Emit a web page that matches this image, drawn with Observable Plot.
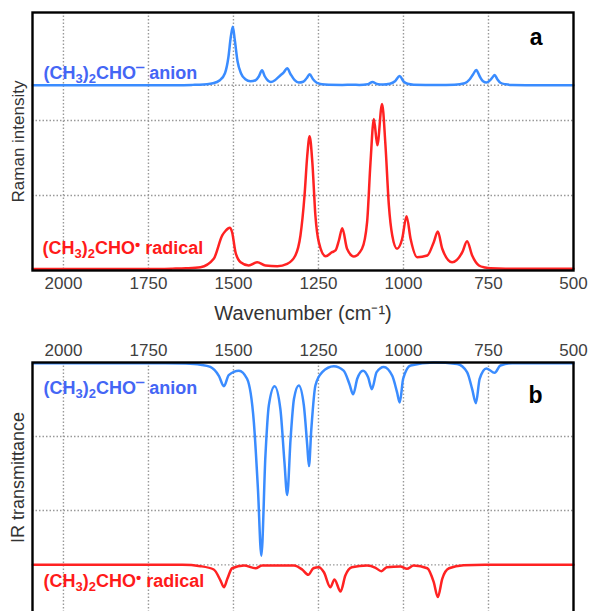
<!DOCTYPE html>
<html><head><meta charset="utf-8">
<script src="https://cdn.jsdelivr.net/npm/d3@7"></script>
<script src="https://cdn.jsdelivr.net/npm/@observablehq/plot@0.6"></script>
<style>
body{margin:0;background:#fff;font-family:"Liberation Sans",Arial,sans-serif}
#b{height:281px;overflow:hidden}
svg{display:block}
</style></head><body>
<div id="a"></div><div id="b"></div>
<script>
// x range and ticks (wavenumber, cm-1)
const xDomain = [2091, 500];
const xTicks = [2000, 1750, 1500, 1250, 1000, 750, 500];

// Panel a: Raman (arbitrary units; gridlines at 100, 200)
const ramanGrid = [100, 200];
const ramanAnionOffset = 247;
const ramanAnion = [[2090,0],[1700,0],[1620,0.5],[1600,0.7],[1560,2.7],[1540,6.7],[1525,16],[1515,37],[1508,64],[1502,78],[1496,60],[1488,32],[1478,16],[1465,8],[1450,5.3],[1435,6.7],[1425,12],[1416,20],[1408,12],[1398,6],[1390,4.4],[1378,6.7],[1364,12.4],[1352,17.3],[1342,22.7],[1332,14.7],[1320,6.7],[1308,3.6],[1295,4.7],[1285,9.3],[1276,14.7],[1266,8],[1255,3.3],[1240,1.3],[1220,0.7],[1180,0.5],[1150,0.8],[1130,0.4],[1105,1.3],[1091,4.4],[1078,1.6],[1060,0.9],[1040,2],[1025,5.3],[1011,12.4],[1000,5.3],[988,2],[970,0.8],[900,0.4],[850,0.7],[820,2.7],[805,8],[795,14.7],[786,20.4],[776,12],[766,5.3],[756,3.6],[745,6.7],[738,10.7],[732,13.7],[724,8],[715,3.3],[700,1.3],[680,0.4],[600,0],[500,0]];
const ramanRadical = [[2090,2],[1750,2],[1680,2.5],[1640,3],[1597,4.4],[1558,15.6],[1533,46.7],[1523,53],[1511,57],[1504,51],[1494,24.4],[1479,11],[1455,6.7],[1430,11],[1406,6.7],[1371,5.8],[1342,8.9],[1318,20],[1303,46.7],[1291,100],[1283,153],[1276,179],[1268,144],[1259,73],[1249,37.8],[1229,19],[1210,24.4],[1200,26.7],[1190,40],[1180,56.4],[1166,29],[1146,18.7],[1122,29],[1107,64.4],[1097,144],[1087,202],[1077,167],[1063,222],[1053,167],[1043,87],[1033,46.7],[1019,29],[1004,42],[991,72.4],[979,42],[960,17.8],[930,20],[911,37.8],[899,52],[886,29],[857,11],[827,24.4],[813,39],[798,20],[778,6.7],[760,4],[744,3],[700,2.5],[500,2.5]];

// Panel b: IR transmittance (arbitrary units; gridlines at 100, 200)
const irGrid = [100, 200];
const irRadicalBase = 26.6;
const irAnion = [[2090,299],[1700,299],[1640,298.5],[1597,297],[1568,294],[1543,282],[1528,268],[1514,283],[1484,289],[1460,278],[1440,219],[1428,129],[1418,39],[1406,174],[1396,242],[1379,268],[1362,237],[1350,165],[1342,121],[1332,197],[1322,251],[1308,269],[1293,242],[1283,188],[1278,160],[1271,210],[1259,269],[1239,287],[1205,295],[1176,289],[1159,271],[1148,257],[1136,278],[1119,289],[1104,280],[1093,264],[1079,287],[1058,294],[1033,282],[1019,260],[1011,246],[1001,278],[979,296],[911,300],[842,298],[813,287],[798,264],[787,245],[776,278],[756,292],[732,286],[715,296],[680,299],[500,299]];
const irRadical = [[2090,26.6],[1650,26.6],[1597,24.8],[1558,20.3],[1538,5.4],[1528,-3.6],[1518,7.7],[1504,22],[1469,25.7],[1435,22],[1416,25.7],[1322,25.7],[1298,20.3],[1280,13.1],[1265,22],[1249,23.4],[1234,16.6],[1215,-3.6],[1203,6.8],[1185,-9.4],[1171,12.2],[1152,23.4],[1107,25.7],[1082,22.6],[1065,18],[1049,23.4],[1009,24.3],[990,21.2],[970,25.7],[930,22],[911,3.1],[899,-17],[886,7.7],[866,22],[823,26],[760,26.6],[500,26.6]];

// Series labels as text segments: [text, kind]
const labelAnionParts = [["(CH",""],["3","sub"],[")",""],["2","sub"],["CHO",""],["\u2012","sup"],[" anion",""]];
const labelRadicalParts = [["(CH",""],["3","sub"],[")",""],["2","sub"],["CHO",""],["\u2022","dot"],[" radical",""]];
const labelAnion = labelAnionParts.map(p => p[0]).join("");
const labelRadical = labelRadicalParts.map(p => p[0]).join("");

const BLUE = "#3a8cff", BLUE_TXT = "#4466f5", RED = "#ff2222", RED_TXT = "#ff1a1a";
const gridStyle = {stroke:"#999", strokeDasharray:"1.5,2", strokeWidth:1.4};
const font = "'Liberation Sans', Arial, sans-serif";
const fmt = d => String(d);

function richText(svg) {
  d3.select(svg).selectAll("text").each(function() {
    const t = this.textContent;
    const parts = t === labelAnion ? labelAnionParts : t === labelRadical ? labelRadicalParts : null;
    if (!parts) return;
    const el = d3.select(this);
    el.text(null);
    let shift = 0;
    for (const [s, kind] of parts) {
      let target = 0, size = null;
      if (kind === "sub") { target = 4; size = 13; }
      else if (kind === "sup") { target = -7; size = 15; }
      else if (kind === "dot") { target = -4; size = 15; }
      const ts = el.append("tspan").attr("dy", target - shift).text(s);
      if (size) ts.attr("font-size", size);
      shift = target;
    }
  });
}

const a = Plot.plot({
  width:589, height:330, marginLeft:32, marginRight:16, marginTop:12, marginBottom:60,
  style:{fontFamily:font, fontSize:"17px", color:"#404040", background:"white"},
  x:{domain:xDomain, ticks:xTicks, tickFormat:fmt, tickSize:0, tickPadding:6, label:null},
  y:{domain:[0,344], axis:null},
  marks:[
    Plot.ruleX(xTicks.filter(t => t > 500), gridStyle),
    Plot.ruleY([...ramanGrid, ramanAnionOffset], gridStyle),
    Plot.line(ramanRadical, {x:d=>d[0], y:d=>d[1], stroke:RED, strokeWidth:2.5, curve:"monotone-x"}),
    Plot.line(ramanAnion, {x:d=>d[0], y:d=>d[1] + ramanAnionOffset, stroke:BLUE, strokeWidth:2.5, curve:"monotone-x"}),
    Plot.frame({stroke:"black", strokeWidth:2.4}),
    Plot.text(["Wavenumber (cm\u207B\u00B9)"], {frameAnchor:"bottom", lineAnchor:"middle", dy:43, fontSize:20, fill:"#333"}),
    Plot.text(["Raman intensity"], {frameAnchor:"left", textAnchor:"middle", lineAnchor:"middle", rotate:-90, dx:-14, fontSize:17, fill:"#333"}),
    Plot.text([labelAnion], {frameAnchor:"top-left", textAnchor:"start", lineAnchor:"middle", dx:11, dy:61, fontSize:18, fontWeight:"bold", fill:BLUE_TXT}),
    Plot.text([labelRadical], {frameAnchor:"bottom-left", textAnchor:"start", lineAnchor:"middle", dx:10, dy:-22, fontSize:18, fontWeight:"bold", fill:RED_TXT}),
    Plot.text(["a"], {frameAnchor:"top-right", lineAnchor:"middle", dx:-31, dy:25, fontSize:23, fontWeight:"bold", fill:"black"})
  ]
});
richText(a);
document.getElementById("a").append(a);

const b = Plot.plot({
  width:589, height:300, marginLeft:32, marginRight:16, marginTop:32, marginBottom:10,
  style:{fontFamily:font, fontSize:"17px", color:"#404040", background:"white"},
  x:{domain:xDomain, axis:"top", ticks:xTicks, tickFormat:fmt, tickSize:0, tickPadding:7, label:null},
  y:{domain:[-48.6,300], axis:null},
  marks:[
    Plot.ruleX(xTicks.filter(t => t > 500), gridStyle),
    Plot.ruleY([...irGrid, irRadicalBase], gridStyle),
    Plot.line(irRadical, {x:d=>d[0], y:d=>d[1], stroke:RED, strokeWidth:2.5, curve:"monotone-x"}),
    Plot.line(irAnion, {x:d=>d[0], y:d=>d[1], stroke:BLUE, strokeWidth:2.5, curve:"monotone-x"}),
    Plot.frame({stroke:"black", strokeWidth:2.4}),
    Plot.text(["IR transmittance"], {frameAnchor:"left", textAnchor:"middle", lineAnchor:"middle", rotate:-90, dx:-14, dy:-14, fontSize:18, fill:"#333"}),
    Plot.text([labelAnion], {frameAnchor:"top-left", textAnchor:"start", lineAnchor:"middle", dx:11, dy:26, fontSize:18, fontWeight:"bold", fill:BLUE_TXT}),
    Plot.text([labelRadical], {frameAnchor:"top-left", textAnchor:"start", lineAnchor:"middle", dx:11, dy:219, fontSize:18, fontWeight:"bold", fill:RED_TXT}),
    Plot.text(["b"], {frameAnchor:"top-right", lineAnchor:"middle", dx:-31, dy:33, fontSize:23, fontWeight:"bold", fill:"black"})
  ]
});
richText(b);
document.getElementById("b").append(b);
</script>
</body></html>
